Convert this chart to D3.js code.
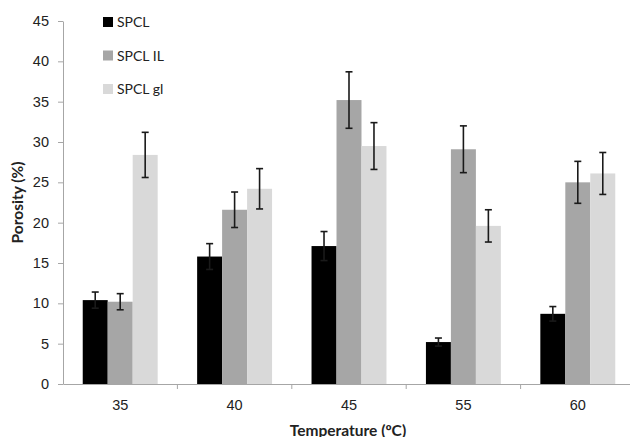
<!DOCTYPE html>
<html lang="en">
<head>
<meta charset="utf-8">
<script src="https://d3js.org/d3.v7.min.js"></script>
<title>Porosity vs Temperature</title>
<style>
    body { margin: 0; background: #fff; }
    svg { display: block; font-family: Lato, "Open Sans", sans-serif; }
    .axis path, .axis line { stroke: #a6a6a6; }
    .axis text { font-size: 14.5px; fill: #222; }
</style>
</head>
<body>
<div id="chart"></div>
<script type="text/javascript">
    // data
    var temps = ["35", "40", "45", "55", "60"];
    var series = ["SPCL", "SPCL IL", "SPCL gl"];
    var spcl     = [10.4, 15.8, 17.1, 5.2, 8.7];
    var spclIL   = [10.2, 21.6, 35.2, 29.1, 25.0];
    var spclGl   = [28.4, 24.2, 29.5, 19.6, 26.1];
    var spclErr   = [1.0, 1.6, 1.8, 0.5, 0.9];
    var spclILErr = [1.0, 2.2, 3.5, 2.9, 2.6];
    var spclGlErr = [2.8, 2.5, 2.9, 2.0, 2.6];
    var yTicks = [0, 5, 10, 15, 20, 25, 30, 35, 40, 45];

    var values = [spcl, spclIL, spclGl];
    var errors = [spclErr, spclILErr, spclGlErr];
    var colors = ["#000000", "#a6a6a6", "#d9d9d9"];

    var margin = {top: 21, right: 0, bottom: 53, left: 63},
        width = 572,
        height = 437 - margin.top - margin.bottom;

    var svg = d3.select("#chart")
        .append("svg")
            .attr("width", 630)
            .attr("height", 437)
        .append("g")
            .attr("transform", "translate(" + margin.left + "," + margin.top + ")");

    var x0 = d3.scaleBand().domain(temps).range([0, width]).padding(0);
    var x1 = d3.scaleBand().domain(series).range([0, x0.bandwidth()])
        .paddingInner(0).paddingOuter(0.79);
    var y = d3.scaleLinear().domain([0, 45]).range([height, 0]);

    // table for drawing
    var rows = [];
    temps.forEach(function(t, i) {
        series.forEach(function(s, j) {
            rows.push({temp: t, series: s, idx: j, value: values[j][i], err: errors[j][i]});
        });
    });

    // y axis
    svg.append("g")
        .attr("class", "axis")
        .call(d3.axisLeft(y).tickValues(yTicks).tickSize(5).tickPadding(9).tickSizeOuter(0));

    // x axis
    var xAxis = svg.append("g")
        .attr("class", "axis")
        .attr("transform", "translate(0," + height + ")")
        .call(d3.axisBottom(x0).tickSize(0).tickPadding(16).tickSizeOuter(0));
    xAxis.selectAll(".sep")
        .data(temps)
        .enter().append("line")
            .attr("class", "sep")
            .attr("x1", function(d) { return x0(d) + x0.bandwidth(); })
            .attr("x2", function(d) { return x0(d) + x0.bandwidth(); })
            .attr("y1", 0)
            .attr("y2", 5);

    // bars
    var bar = svg.selectAll(".bar")
        .data(rows)
        .enter().append("g")
            .attr("class", "bar")
            .attr("transform", function(d) { return "translate(" + (x0(d.temp) + x1(d.series)) + ",0)"; });

    bar.append("rect")
        .attr("x", 0)
        .attr("y", function(d) { return y(d.value); })
        .attr("width", x1.bandwidth())
        .attr("height", function(d) { return height - y(d.value); })
        .style("fill", function(d) { return colors[d.idx]; });

    // error bars
    var cx = x1.bandwidth() / 2;
    bar.append("line")
        .attr("x1", cx).attr("x2", cx)
        .attr("y1", function(d) { return y(d.value + d.err); })
        .attr("y2", function(d) { return y(d.value - d.err); })
        .style("stroke", "#1a1a1a").style("stroke-width", 1.6);
    [1, -1].forEach(function(sign) {
        bar.append("line")
            .attr("x1", cx - 3.5).attr("x2", cx + 3.5)
            .attr("y1", function(d) { return y(d.value + sign * d.err); })
            .attr("y2", function(d) { return y(d.value + sign * d.err); })
            .style("stroke", "#1a1a1a").style("stroke-width", 1.6);
    });

    // legend
    var legend = svg.selectAll(".legend")
        .data(series)
        .enter().append("g")
            .attr("class", "legend")
            .attr("transform", function(d, i) { return "translate(40," + (1 + i * 33.5) + ")"; });
    legend.append("rect")
        .attr("x", 0).attr("y", -5)
        .attr("width", 10).attr("height", 10)
        .style("fill", function(d, i) { return colors[i]; });
    legend.append("text")
        .attr("x", 14)
        .attr("dy", "0.36em")
        .style("font-size", "14px")
        .style("fill", "#222")
        .text(function(d) { return d; });

    // axis titles
    svg.append("text")
        .attr("text-anchor", "middle")
        .attr("x", 348 - margin.left)
        .attr("y", height + 52)
        .style("font-size", "15.5px")
        .style("font-weight", "bold")
        .style("fill", "#222")
        .text("Temperature (ºC)");

    svg.append("text")
        .attr("text-anchor", "middle")
        .attr("transform", "rotate(-90)")
        .attr("x", -height / 2)
        .attr("y", -40)
        .style("font-size", "15.5px")
        .style("font-weight", "bold")
        .style("fill", "#222")
        .text("Porosity (%)");
</script>
</body>
</html>
